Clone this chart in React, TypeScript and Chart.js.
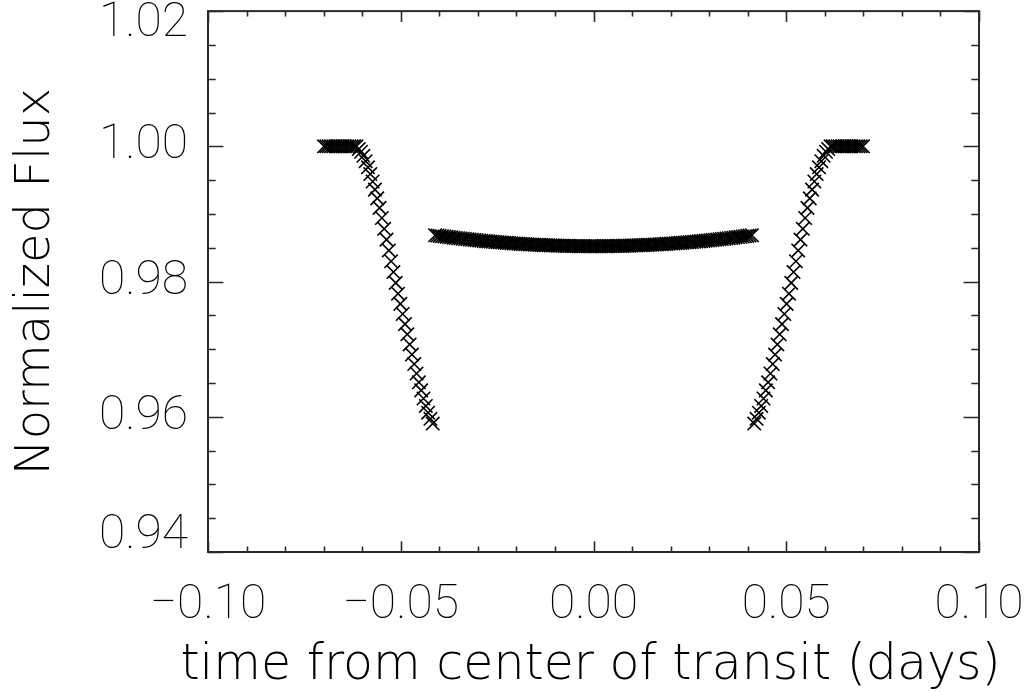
import { useEffect, useRef } from 'react';
import { Chart, registerables } from 'chart.js';

Chart.register(...registerables);

// Out-of-transit baseline before first contact
const leftFlatTime = [
  -0.0699, -0.0693, -0.0687, -0.0681, -0.0675, -0.0669, -0.0663, -0.0657,
  -0.0651, -0.0645, -0.0639, -0.0633, -0.0627, -0.0621, -0.0615,
];
const leftFlatFlux = [1, 1, 1, 1, 1, 1, 1, 1, 1, 1, 1, 1, 1, 1, 1];

// Ingress
const ingressTime = [
  -0.0609, -0.0603, -0.0597, -0.0591, -0.0585, -0.0579, -0.0573, -0.0567,
  -0.0561, -0.0555, -0.0549, -0.0543, -0.0537, -0.0531, -0.0525, -0.0519,
  -0.0513, -0.0507, -0.0501, -0.0495, -0.0489, -0.0483, -0.0477, -0.0471,
  -0.0465, -0.0459, -0.0453, -0.0447, -0.0441, -0.0435, -0.0429, -0.0423,
  -0.0417,
];
const ingressFlux = [
  0.9996, 0.9992, 0.9986, 0.9978, 0.9969, 0.9959, 0.9948, 0.9936, 0.9923,
  0.9909, 0.9894, 0.9878, 0.9862, 0.9846, 0.983, 0.9814, 0.9798, 0.9782,
  0.9767, 0.9752, 0.9737, 0.9722, 0.9707, 0.9692, 0.9678, 0.9664, 0.9651,
  0.9639, 0.9627, 0.9616, 0.9606, 0.9597, 0.959,
];

// Full transit (limb-darkened bottom)
const transitTime = [
  -0.0411, -0.0405, -0.0399, -0.0393, -0.0387, -0.0381, -0.0375, -0.0369,
  -0.0363, -0.0357, -0.0351, -0.0345, -0.0339, -0.0333, -0.0327, -0.0321,
  -0.0315, -0.0309, -0.0303, -0.0297, -0.0291, -0.0285, -0.0279, -0.0273,
  -0.0267, -0.0261, -0.0255, -0.0249, -0.0243, -0.0237, -0.0231, -0.0225,
  -0.0219, -0.0213, -0.0207, -0.0201, -0.0195, -0.0189, -0.0183, -0.0177,
  -0.0171, -0.0165, -0.0159, -0.0153, -0.0147, -0.0141, -0.0135, -0.0129,
  -0.0123, -0.0117, -0.0111, -0.0105, -0.0099, -0.0093, -0.0087, -0.0081,
  -0.0075, -0.0069, -0.0063, -0.0057, -0.0051, -0.0045, -0.0039, -0.0033,
  -0.0027, -0.0021, -0.0015, -0.0009, -0.0003,
  0.0003, 0.0009, 0.0015, 0.0021, 0.0027, 0.0033, 0.0039, 0.0045,
  0.0051, 0.0057, 0.0063, 0.0069, 0.0075, 0.0081, 0.0087, 0.0093,
  0.0099, 0.0105, 0.0111, 0.0117, 0.0123, 0.0129, 0.0135, 0.0141,
  0.0147, 0.0153, 0.0159, 0.0165, 0.0171, 0.0177, 0.0183, 0.0189,
  0.0195, 0.0201, 0.0207, 0.0213, 0.0219, 0.0225, 0.0231, 0.0237,
  0.0243, 0.0249, 0.0255, 0.0261, 0.0267, 0.0273, 0.0279, 0.0285,
  0.0291, 0.0297, 0.0303, 0.0309, 0.0315, 0.0321, 0.0327, 0.0333,
  0.0339, 0.0345, 0.0351, 0.0357, 0.0363, 0.0369, 0.0375, 0.0381,
  0.0387, 0.0393, 0.0399, 0.0405, 0.0411,
];
const transitFlux = [
  0.98685, 0.9868, 0.98676, 0.98671, 0.98667, 0.98662, 0.98658, 0.98654,
  0.98649, 0.98645, 0.98641, 0.98637, 0.98633, 0.98629, 0.98626, 0.98622,
  0.98618, 0.98615, 0.98611, 0.98608, 0.98604, 0.98601, 0.98598, 0.98594,
  0.98591, 0.98588, 0.98585, 0.98582, 0.9858, 0.98577, 0.98574, 0.98572,
  0.98569, 0.98566, 0.98564, 0.98562, 0.98559, 0.98557, 0.98555, 0.98553,
  0.98551, 0.98549, 0.98547, 0.98545, 0.98544, 0.98542, 0.9854, 0.98539,
  0.98538, 0.98536, 0.98535, 0.98534, 0.98532, 0.98531, 0.9853, 0.98529,
  0.98528, 0.98528, 0.98527, 0.98526, 0.98525, 0.98525, 0.98524, 0.98524,
  0.98524, 0.98523, 0.98523, 0.98523, 0.98523,
  0.98523, 0.98523, 0.98523, 0.98523, 0.98524, 0.98524, 0.98524, 0.98525,
  0.98525, 0.98526, 0.98527, 0.98528, 0.98528, 0.98529, 0.9853, 0.98531,
  0.98532, 0.98534, 0.98535, 0.98536, 0.98538, 0.98539, 0.9854, 0.98542,
  0.98544, 0.98545, 0.98547, 0.98549, 0.98551, 0.98553, 0.98555, 0.98557,
  0.98559, 0.98562, 0.98564, 0.98566, 0.98569, 0.98572, 0.98574, 0.98577,
  0.9858, 0.98582, 0.98585, 0.98588, 0.98591, 0.98594, 0.98598, 0.98601,
  0.98604, 0.98608, 0.98611, 0.98615, 0.98618, 0.98622, 0.98626, 0.98629,
  0.98633, 0.98637, 0.98641, 0.98645, 0.98649, 0.98654, 0.98658, 0.98662,
  0.98667, 0.98671, 0.98676, 0.9868, 0.98685,
];

// Egress
const egressTime = [
  0.0417, 0.0423, 0.0429, 0.0435, 0.0441, 0.0447, 0.0453, 0.0459, 0.0465,
  0.0471, 0.0477, 0.0483, 0.0489, 0.0495, 0.0501, 0.0507, 0.0513, 0.0519,
  0.0525, 0.0531, 0.0537, 0.0543, 0.0549, 0.0555, 0.0561, 0.0567, 0.0573,
  0.0579, 0.0585, 0.0591, 0.0597, 0.0603, 0.0609,
];
const egressFlux = [
  0.959, 0.9597, 0.9606, 0.9616, 0.9627, 0.9639, 0.9651, 0.9664, 0.9678,
  0.9692, 0.9707, 0.9722, 0.9737, 0.9752, 0.9767, 0.9782, 0.9798, 0.9814,
  0.983, 0.9846, 0.9862, 0.9878, 0.9894, 0.9909, 0.9923, 0.9936, 0.9948,
  0.9959, 0.9969, 0.9978, 0.9986, 0.9992, 0.9996,
];

// Out-of-transit baseline after last contact
const rightFlatTime = [
  0.0615, 0.0621, 0.0627, 0.0633, 0.0639, 0.0645, 0.0651, 0.0657, 0.0663,
  0.0669, 0.0675, 0.0681, 0.0687, 0.0693, 0.0699,
];
const rightFlatFlux = [1, 1, 1, 1, 1, 1, 1, 1, 1, 1, 1, 1, 1, 1, 1];

// Axis ticks
const xMajorTicks = [-0.1, -0.05, 0, 0.05, 0.1];
const xTickLabels = ['\u22120.10', '\u22120.05', '0.00', '0.05', '0.10'];
const yMajorTicks = [0.94, 0.96, 0.98, 1.0, 1.02];
const yTickLabels = ['0.94', '0.96', '0.98', '1.00', '1.02'];

const X_TITLE = 'time from center of transit (days)';
const Y_TITLE = 'Normalized Flux';

const INK = '#000000';
const AXIS = '#2a2a2a';
const TICK_FONT = '100 48px Roboto, "Liberation Sans", sans-serif';
const X_TITLE_FONT = '200 49px "DejaVu Sans", sans-serif';

function toPoints(times: number[], fluxes: number[]) {
  return times.map((t, i) => ({ x: t, y: fluxes[i] }));
}

const isMajor = (v: number, majors: number[]) =>
  majors.some((m) => Math.abs(m - v) < 1e-9);

// Draws the closed box with inward ticks on all four sides, the tick labels
// and the x-axis title (which is wider than the plot box)
const boxAxesPlugin = {
  id: 'boxAxes',
  afterDraw(chart: any) {
    const { ctx, chartArea, scales } = chart;
    const { left, right, top, bottom } = chartArea;
    const w = right - left;
    const h = bottom - top;
    const xs = scales.x;
    const ys = scales.y;
    ctx.save();
    ctx.strokeStyle = AXIS;
    ctx.lineWidth = 1.6;
    ctx.beginPath();
    for (const t of xs.ticks) {
      const px = Math.round(xs.getPixelForValue(t.value)) + 0.5;
      const len = isMajor(t.value, xMajorTicks) ? h * 0.02 : h * 0.01;
      ctx.moveTo(px, bottom);
      ctx.lineTo(px, bottom - len);
      ctx.moveTo(px, top);
      ctx.lineTo(px, top + len);
    }
    for (const t of ys.ticks) {
      const py = Math.round(ys.getPixelForValue(t.value)) + 0.5;
      const len = isMajor(t.value, yMajorTicks) ? w * 0.02 : w * 0.01;
      ctx.moveTo(left, py);
      ctx.lineTo(left + len, py);
      ctx.moveTo(right, py);
      ctx.lineTo(right - len, py);
    }
    ctx.stroke();
    ctx.lineWidth = 2;
    ctx.strokeRect(left, top, w, h);

    ctx.fillStyle = INK;
    ctx.font = TICK_FONT;
    ctx.textBaseline = 'middle';
    ctx.textAlign = 'center';
    xMajorTicks.forEach((v, i) => {
      ctx.fillText(xTickLabels[i], xs.getPixelForValue(v), bottom + 54);
    });
    ctx.textAlign = 'right';
    yMajorTicks.forEach((v, i) => {
      let py = ys.getPixelForValue(v);
      py = Math.min(Math.max(py, top + 13), bottom - 16);
      ctx.fillText(yTickLabels[i], left - 20, py);
    });

    ctx.font = X_TITLE_FONT;
    ctx.textAlign = 'center';
    ctx.fillText(X_TITLE, (left + right) / 2 - 3, bottom + 114);
    ctx.restore();
  },
};

export default function App() {
  const canvasRef = useRef<HTMLCanvasElement | null>(null);

  useEffect(() => {
    const canvas = canvasRef.current;
    if (!canvas) return;
    const points = [
      ...toPoints(leftFlatTime, leftFlatFlux),
      ...toPoints(ingressTime, ingressFlux),
      ...toPoints(transitTime, transitFlux),
      ...toPoints(egressTime, egressFlux),
      ...toPoints(rightFlatTime, rightFlatFlux),
    ];
    const chart = new Chart(canvas, {
      type: 'scatter',
      data: {
        datasets: [
          {
            data: points,
            pointStyle: 'crossRot',
            pointRadius: 9.5,
            pointHoverRadius: 9.5,
            pointBorderWidth: 1.6,
            borderColor: INK,
            backgroundColor: INK,
            showLine: false,
          },
        ],
      },
      options: {
        responsive: false,
        animation: false,
        events: [],
        layout: { padding: { top: 9, right: 57, left: 0, bottom: 0 } },
        plugins: { legend: { display: false }, tooltip: { enabled: false } },
        scales: {
          x: {
            type: 'linear',
            min: -0.1,
            max: 0.1,
            ticks: { stepSize: 0.01, display: false },
            grid: { display: false },
            border: { display: false },
            title: { display: false },
            afterFit: (s: any) => {
              s.height = 140;
            },
          },
          y: {
            type: 'linear',
            min: 0.94,
            max: 1.02,
            ticks: { stepSize: 0.005, display: false },
            grid: { display: false },
            border: { display: false },
            title: {
              display: true,
              text: Y_TITLE,
              color: INK,
              font: { family: '"DejaVu Sans", sans-serif', size: 48, weight: '200' as any, lineHeight: 1.2 },
              padding: { top: 8, bottom: 0 },
            },
            afterFit: (s: any) => {
              s.width = 208;
            },
          },
        },
      },
      plugins: [boxAxesPlugin],
    });
    return () => chart.destroy();
  }, []);

  return (
    <div style={{ position: 'absolute', left: 0, top: 0, width: 1036, height: 692, background: '#fff' }}>
      <canvas ref={canvasRef} width={1036} height={692} style={{ display: 'block' }} />
    </div>
  );
}
